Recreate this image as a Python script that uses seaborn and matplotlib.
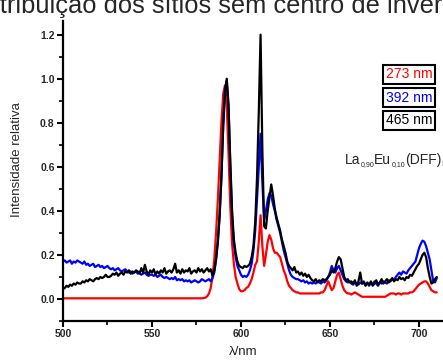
import numpy as np
import pandas as pd
import matplotlib
matplotlib.use("Agg")
import matplotlib.pyplot as plt
import seaborn as sns
from matplotlib.ticker import MultipleLocator

sns.set_theme(style="ticks")
plt.rcParams['font.family'] = ['Liberation Sans', 'DejaVu Sans']

title_text = "Distribuição dos sítios sem centro de inversão"
series_labels = ["273 nm", "392 nm", "465 nm"]
series_colors = ["#ff0000", "#0000ff", "#000000"]
formula_parts = [("La", False), ("0,90", True), ("Eu", False), ("0,10", True),
                 ("(DFF)", False), ("3", True)]

wavelength = list(range(500, 711))

red_273 = [
    0.003, 0.003, 0.003, 0.003, 0.003, 0.003, 0.003, 0.003, 0.003, 0.003,
    0.003, 0.003, 0.003, 0.003, 0.003, 0.003, 0.003, 0.003, 0.003, 0.003,
    0.003, 0.003, 0.003, 0.003, 0.003, 0.003, 0.003, 0.003, 0.003, 0.003,
    0.003, 0.003, 0.003, 0.003, 0.003, 0.003, 0.003, 0.003, 0.003, 0.003,
    0.003, 0.003, 0.003, 0.003, 0.003, 0.003, 0.003, 0.003, 0.003, 0.003,
    0.003, 0.003, 0.003, 0.003, 0.003, 0.003, 0.003, 0.003, 0.003, 0.003,
    0.003, 0.003, 0.003, 0.003, 0.003, 0.003, 0.003, 0.003, 0.003, 0.003,
    0.003, 0.003, 0.003, 0.003, 0.003, 0.003, 0.003, 0.003, 0.003, 0.004,
    0.006, 0.012, 0.025, 0.05, 0.10, 0.18, 0.30, 0.45, 0.62, 0.80,
    0.93, 0.97, 0.88, 0.66, 0.42, 0.25, 0.16, 0.10, 0.07, 0.045,
    0.035, 0.035, 0.04, 0.05, 0.055, 0.07, 0.09, 0.12, 0.155, 0.17,
    0.26, 0.38, 0.24, 0.15, 0.20, 0.26, 0.29, 0.27, 0.23, 0.21,
    0.21, 0.20, 0.19, 0.16, 0.13, 0.11, 0.08, 0.06, 0.05, 0.04,
    0.035, 0.03, 0.03, 0.025, 0.025, 0.025, 0.025, 0.025, 0.025, 0.025,
    0.025, 0.025, 0.025, 0.025, 0.025, 0.03, 0.03, 0.04, 0.06, 0.08,
    0.06, 0.04, 0.05, 0.08, 0.11, 0.12, 0.09, 0.06, 0.04, 0.03,
    0.025, 0.025, 0.02, 0.025, 0.03, 0.025, 0.02, 0.015, 0.01, 0.01,
    0.01, 0.01, 0.01, 0.01, 0.01, 0.01, 0.01, 0.01, 0.01, 0.01,
    0.01, 0.01, 0.015, 0.02, 0.025, 0.025, 0.025, 0.02, 0.025, 0.025,
    0.02, 0.025, 0.025, 0.025, 0.025, 0.03, 0.03, 0.035, 0.045, 0.055,
    0.065, 0.07, 0.075, 0.08, 0.08, 0.07, 0.055, 0.04, 0.035, 0.03,
    0.03,
]

blue_392 = [
    0.17, 0.175, 0.165, 0.17, 0.175, 0.16, 0.17, 0.165, 0.175, 0.17,
    0.165, 0.16, 0.17, 0.155, 0.16, 0.15, 0.155, 0.16, 0.145, 0.15,
    0.155, 0.145, 0.15, 0.14, 0.145, 0.15, 0.14, 0.135, 0.14, 0.13,
    0.135, 0.14, 0.13, 0.125, 0.13, 0.135, 0.125, 0.12, 0.125, 0.115,
    0.12, 0.125, 0.115, 0.12, 0.11, 0.115, 0.12, 0.11, 0.105, 0.11,
    0.11, 0.105, 0.11, 0.10, 0.105, 0.11, 0.10, 0.095, 0.10, 0.095,
    0.09, 0.095, 0.09, 0.10, 0.085, 0.09, 0.085, 0.09, 0.08, 0.085,
    0.08, 0.085, 0.075, 0.08, 0.085, 0.08, 0.075, 0.08, 0.09, 0.085,
    0.08, 0.085, 0.09, 0.08, 0.095, 0.12, 0.18, 0.26, 0.38, 0.56,
    0.79, 0.95, 0.99, 0.87, 0.60, 0.38, 0.25, 0.19, 0.15, 0.13,
    0.11, 0.10, 0.105, 0.10, 0.11, 0.13, 0.16, 0.22, 0.31, 0.45,
    0.60, 0.75, 0.53, 0.36, 0.40, 0.45, 0.48, 0.47, 0.43, 0.40,
    0.36, 0.33, 0.30, 0.26, 0.22, 0.19, 0.16, 0.13, 0.11, 0.10,
    0.095, 0.09, 0.09, 0.085, 0.08, 0.085, 0.075, 0.08, 0.07, 0.075,
    0.07, 0.075, 0.07, 0.08, 0.075, 0.07, 0.08, 0.075, 0.085, 0.10,
    0.12, 0.15, 0.13, 0.12, 0.14, 0.15, 0.13, 0.11, 0.09, 0.08,
    0.075, 0.08, 0.07, 0.065, 0.075, 0.07, 0.065, 0.075, 0.07, 0.08,
    0.065, 0.07, 0.06, 0.075, 0.065, 0.08, 0.07, 0.06, 0.075, 0.07,
    0.08, 0.075, 0.07, 0.085, 0.08, 0.09, 0.085, 0.10, 0.11, 0.12,
    0.11, 0.125, 0.12, 0.115, 0.13, 0.14, 0.15, 0.16, 0.17, 0.20,
    0.23, 0.25, 0.265, 0.26, 0.24, 0.21, 0.18, 0.13, 0.08, 0.075,
    0.095,
]

black_465 = [
    0.045, 0.05, 0.06, 0.055, 0.065, 0.06, 0.07, 0.065, 0.075, 0.07,
    0.07, 0.08, 0.075, 0.085, 0.08, 0.09, 0.085, 0.08, 0.09, 0.095,
    0.09, 0.10, 0.095, 0.10, 0.11, 0.10, 0.10, 0.105, 0.115, 0.11,
    0.12, 0.105, 0.115, 0.12, 0.11, 0.125, 0.12, 0.13, 0.115, 0.125,
    0.12, 0.13, 0.125, 0.115, 0.14, 0.12, 0.155, 0.125, 0.11, 0.13,
    0.12, 0.135, 0.11, 0.125, 0.115, 0.13, 0.12, 0.14, 0.115, 0.125,
    0.13, 0.12, 0.135, 0.16, 0.12, 0.13, 0.115, 0.135, 0.12, 0.13,
    0.125, 0.14, 0.115, 0.125, 0.13, 0.12, 0.14, 0.125, 0.135, 0.12,
    0.13, 0.14, 0.125, 0.135, 0.105, 0.13, 0.18, 0.26, 0.38, 0.55,
    0.78, 0.94, 1.0, 0.88, 0.62, 0.40, 0.27, 0.21, 0.17, 0.15,
    0.145, 0.14, 0.15, 0.145, 0.15, 0.16, 0.19, 0.24, 0.35, 0.55,
    0.85, 1.2, 0.68, 0.33, 0.32, 0.40, 0.46, 0.52, 0.47, 0.41,
    0.37, 0.34, 0.31, 0.27, 0.24, 0.21, 0.17, 0.15, 0.14, 0.13,
    0.145, 0.12, 0.125, 0.11, 0.12, 0.105, 0.115, 0.10, 0.11, 0.095,
    0.085, 0.08, 0.09, 0.075, 0.085, 0.08, 0.09, 0.085, 0.09, 0.10,
    0.11, 0.13, 0.12, 0.14, 0.17, 0.19, 0.18, 0.14, 0.10, 0.085,
    0.09, 0.075, 0.08, 0.07, 0.085, 0.06, 0.08, 0.12, 0.07, 0.075,
    0.06, 0.075, 0.065, 0.08, 0.06, 0.07, 0.085, 0.065, 0.075, 0.09,
    0.07, 0.08, 0.09, 0.075, 0.085, 0.095, 0.08, 0.09, 0.085, 0.10,
    0.09, 0.095, 0.085, 0.10, 0.095, 0.11, 0.105, 0.12, 0.135, 0.15,
    0.16, 0.18, 0.20, 0.21, 0.19, 0.14, 0.10, 0.07, 0.075, 0.09,
    0.10,
]

yticks = [0.0, 0.2, 0.4, 0.6, 0.8, 1.0, 1.2]
xticks = [500, 550, 600, 650, 700]

W, H = 443, 361
fig = plt.figure(figsize=(W / 100, H / 100), dpi=100)
ax = fig.add_axes([63 / W, (H - 321) / H, 1 - 63 / W, 300 / H])

df = pd.DataFrame({
    "wl": wavelength * 3,
    "I": red_273 + blue_392 + black_465,
    "s": [series_labels[0]] * len(wavelength) + [series_labels[1]] * len(wavelength)
         + [series_labels[2]] * len(wavelength),
})
sns.lineplot(data=df, x="wl", y="I", hue="s", palette=series_colors,
             hue_order=series_labels, linewidth=1.6, ax=ax, legend=False)

ax.set_xlim(500, 713.5)
ax.set_ylim(-0.1, 1.262)
ax.set_xticks(xticks)
ax.set_yticks(yticks)
ax.set_xticklabels([str(v) for v in xticks], fontweight="bold", fontsize=7.5)
ax.set_yticklabels([f"{v:.1f}" for v in yticks], fontweight="bold", fontsize=7.5)
ax.xaxis.set_minor_locator(MultipleLocator(25))
ax.yaxis.set_minor_locator(MultipleLocator(0.1))
ax.tick_params(which="major", direction="out", length=4, width=1.5, pad=2, color="black")
ax.tick_params(which="minor", direction="out", length=3, width=1.2, color="black")
for side in ["top", "right"]:
    ax.spines[side].set_visible(False)
for side in ["left", "bottom"]:
    ax.spines[side].set_linewidth(1.6)
    ax.spines[side].set_color("black")
ax.set_xlabel("")
ax.set_ylabel("")

fig.text(243 / W, 1 - 352 / H, "λ/nm", ha="center", va="center", fontsize=9.5)
fig.text(17 / W, 1 - 160 / H, "Intensidade relativa", rotation=90,
         ha="center", va="center", fontsize=9.5)
fig.text(-37 / W, 1 - 12.5 / H, title_text, ha="left", va="baseline", fontsize=18.4)

box_tops = [64, 87, 110]
for lab, col, top in zip(series_labels, series_colors, box_tops):
    fig.text(386 / W, 1 - (top + 10.5) / H, lab, color=col, fontsize=10,
             ha="left", va="center",
             bbox=dict(boxstyle="square,pad=0.2", fc="white", ec="black", lw=1.5))

# chemical formula with small subscripts, built piece by piece
renderer = fig.canvas.get_renderer()
x_px = 345.0
base_y = 164.0
for txt, is_sub in formula_parts:
    fs = 5 if is_sub else 10
    y_px = base_y + (2.5 if is_sub else 0)
    t = fig.text(x_px / W, 1 - y_px / H, txt, ha="left", va="baseline", fontsize=fs)
    bb = t.get_window_extent(renderer=renderer)
    x_px += bb.width + (0.5 if txt == "Eu" else 0)

fig.savefig("out.png", dpi=100)
